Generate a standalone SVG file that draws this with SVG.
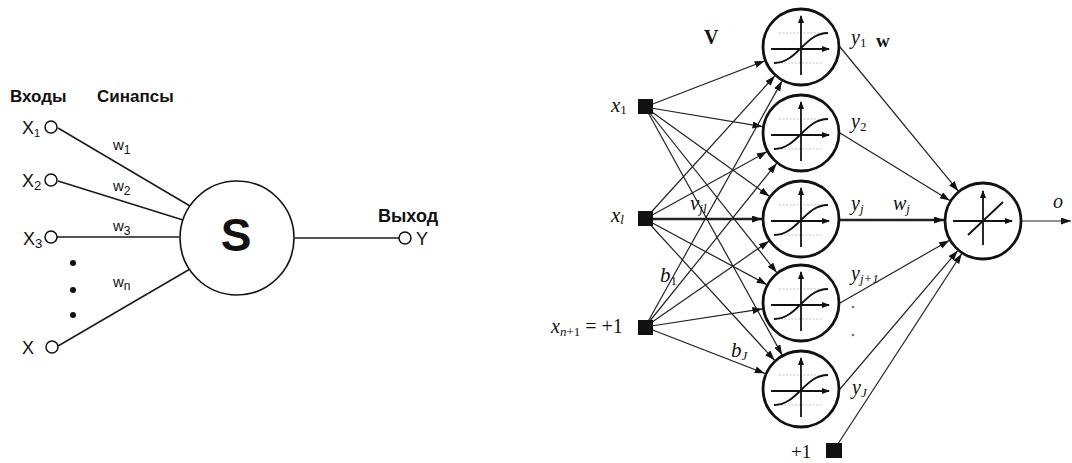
<svg xmlns="http://www.w3.org/2000/svg" xmlns:xlink="http://www.w3.org/1999/xlink" width="1072" height="463" viewBox="0 0 1072 463">
<style>
.sans{font-family:"Liberation Sans",Arial,sans-serif;fill:#111}
.serif{font-family:"Liberation Serif","Times New Roman",serif;fill:#111}
.it{font-style:italic}
.ln{stroke:#1a1a1a;stroke-width:1.5;fill:none}
.cn{stroke:#222;stroke-width:1.2;fill:none;marker-end:url(#ah)}
.thick{stroke-width:2.6}
.neuron{fill:#fff;stroke:#111;stroke-width:2.8}
.inp{fill:#fff;stroke:#111;stroke-width:1.5}
.sq{fill:#111}
.ax{stroke:#111;stroke-width:1.8;fill:none;marker-end:url(#sh)}
.faint{stroke:#aaa;stroke-width:0.7;stroke-dasharray:2 1.5;fill:none}
</style>
<defs>
<marker id="ah" markerUnits="userSpaceOnUse" markerWidth="10" markerHeight="8" refX="10" refY="3.5" orient="auto"><path d="M0,0 L10,3.5 L0,7 z" fill="#111"/></marker>
<marker id="sh" markerUnits="userSpaceOnUse" markerWidth="8" markerHeight="7" refX="7" refY="3" orient="auto"><path d="M0,0 L8,3 L0,6 z" fill="#111"/></marker>
<g id="sig">
<path class="faint" d="M-22,-14 H26 M-27,16 H22"/>
<path class="ax" d="M-30,2 H28"/>
<path class="ax" d="M0,28 V-31"/>
<path d="M-27,16 C-3,16 3,-14 27,-14" stroke="#111" stroke-width="1.8" fill="none"/>
</g>
</defs>
<rect width="1072" height="463" fill="#fff"/>

<!-- LEFT: single neuron -->
<g id="left-connectors">
<line class="ln" x1="58" y1="128" x2="190" y2="206"/>
<line class="ln" x1="58" y1="181" x2="183" y2="220"/>
<line class="ln" x1="57" y1="237" x2="179" y2="237"/>
<line class="ln" x1="58" y1="346" x2="190" y2="269"/>
<line class="ln" x1="295" y1="238" x2="399" y2="238"/>
</g>
<g id="headers">
<text class="sans" x="10" y="102" font-size="17" font-weight="bold">Входы</text>
<text class="sans" x="97" y="102" font-size="17" font-weight="bold">Синапсы</text>
</g>
<g id="x1"><circle class="inp" cx="51" cy="127" r="6"/><text class="sans" x="22" y="134" font-size="18">X<tspan font-size="11" dy="3">1</tspan></text></g>
<g id="x2"><circle class="inp" cx="51" cy="180" r="6"/><text class="sans" x="22" y="187" font-size="18">X<tspan font-size="13" dy="3">2</tspan></text></g>
<g id="x3"><circle class="inp" cx="51" cy="237" r="6"/><text class="sans" x="23" y="245" font-size="18">X<tspan font-size="13" dy="3">3</tspan></text></g>
<g id="xn"><circle class="inp" cx="52" cy="347" r="6"/><text class="sans" x="22" y="354" font-size="18">X</text></g>
<g id="dots"><circle cx="73" cy="263" r="3" fill="#111"/><circle cx="73" cy="290" r="3" fill="#111"/><circle cx="73" cy="315" r="3" fill="#111"/></g>
<g id="weights">
<text class="sans" x="113" y="150" font-size="15" fill="#222">w<tspan font-size="12" dy="4">1</tspan></text>
<text class="sans" x="113" y="191" font-size="15" fill="#222">w<tspan font-size="12" dy="4">2</tspan></text>
<text class="sans" x="113" y="231" font-size="15" fill="#222">w<tspan font-size="12" dy="4">3</tspan></text>
<text class="sans" x="113" y="287" font-size="15" fill="#222">w<tspan font-size="12" dy="3">n</tspan></text>
</g>
<g id="summator"><circle cx="237" cy="238" r="57" fill="#fff" stroke="#111" stroke-width="1.6"/><text class="sans" x="236" y="251" font-size="46" font-weight="bold" text-anchor="middle">S</text></g>
<g id="output-y"><circle class="inp" cx="405" cy="238" r="6"/><text class="sans" x="416" y="245" font-size="18">Y</text><text class="sans" x="378" y="222" font-size="18" font-weight="bold">Выход</text></g>

<!-- RIGHT: two-layer network -->
<g id="connectors">
<line class="cn" x1="645" y1="107" x2="764.6" y2="61"/>
<line class="cn" x1="645" y1="107" x2="762.5" y2="126.6"/>
<line class="cn" x1="645" y1="107" x2="769.3" y2="196.3"/>
<line class="cn" x1="645" y1="107" x2="776.7" y2="272.5"/>
<line class="cn" x1="645" y1="107" x2="782.1" y2="354.9"/>
<line class="cn" x1="645" y1="219" x2="774.8" y2="75.9"/>
<line class="cn" x1="645" y1="219" x2="766.8" y2="151.8"/>
<line class="cn thick" x1="645" y1="219" x2="762" y2="219"/>
<line class="cn" x1="645" y1="219" x2="766.7" y2="284.5"/>
<line class="cn" x1="645" y1="219" x2="774.6" y2="360.3"/>
<line class="cn" x1="645" y1="327" x2="782" y2="81.1"/>
<line class="cn" x1="645" y1="327" x2="776.6" y2="163.4"/>
<line class="cn" x1="645" y1="327" x2="768.9" y2="241.2"/>
<line class="cn" x1="645" y1="327" x2="762.4" y2="308.9"/>
<line class="cn" x1="645" y1="327" x2="764.8" y2="373.4"/>
<line class="cn" x1="840" y1="47" x2="958.2" y2="190.9"/>
<line class="cn" x1="840" y1="133" x2="949.8" y2="200.6"/>
<line class="cn thick" x1="840" y1="220" x2="944" y2="220"/>
<line class="cn" x1="840" y1="303" x2="949.2" y2="240.4"/>
<line class="cn" x1="840" y1="389" x2="957.7" y2="250.7"/>
<line class="cn" x1="834" y1="450" x2="961.7" y2="253.7"/>
<line class="cn" x1="1022" y1="221" x2="1071" y2="221"/>
</g>
<g id="in-x1"><rect class="sq" x="638" y="99" width="15" height="15"/><text class="serif it" x="611" y="112" font-size="21">x<tspan font-style="normal" font-size="13" dy="2">1</tspan></text></g>
<g id="in-xl"><rect class="sq" x="638" y="211" width="15" height="15"/><text class="serif it" x="611" y="222" font-size="21">x<tspan font-size="13" dy="2">l</tspan></text></g>
<g id="in-bias"><rect class="sq" x="638" y="320" width="15" height="15"/><text class="serif" x="551" y="333" font-size="20"><tspan font-style="italic">x</tspan><tspan font-style="italic" font-size="13" dy="3">n</tspan><tspan font-size="13">+1</tspan><tspan dy="-3"> = +1</tspan></text></g>
<g id="out-bias"><rect class="sq" x="826" y="443" width="16" height="15"/><text class="serif" x="791" y="458" font-size="19">+1</text></g>
<g id="labels-lr">
<text class="serif" x="704" y="44" font-size="20" font-weight="bold">V</text>
<text class="serif" x="876" y="47" font-size="19" font-weight="bold">w</text>
<text class="serif it" x="690" y="210" font-size="21">v<tspan font-size="13" dy="3">jl</tspan></text>
<text class="serif it" x="660" y="282" font-size="21">b<tspan font-style="normal" font-size="13" dy="3">1</tspan></text>
<text class="serif it" x="731" y="357" font-size="21">b<tspan font-size="13" dy="3">J</tspan></text>
</g>
<g id="h1"><circle class="neuron" cx="801" cy="47" r="38"/><use xlink:href="#sig" x="801" y="47"/><text class="serif it" x="851" y="44" font-size="20">y<tspan font-style="normal" font-size="13" dy="3">1</tspan></text></g>
<g id="h2"><circle class="neuron" cx="801" cy="133" r="38"/><use xlink:href="#sig" x="801" y="133"/><text class="serif it" x="851" y="128" font-size="20">y<tspan font-style="normal" font-size="13" dy="3">2</tspan></text></g>
<g id="h3"><circle class="neuron" cx="801" cy="219" r="38"/><use xlink:href="#sig" x="801" y="219"/><text class="serif it" x="851" y="210" font-size="20">y<tspan font-size="13" dy="3">j</tspan></text><text class="serif it" x="893" y="210" font-size="20">w<tspan font-size="13" dy="3">j</tspan></text></g>
<g id="h4"><circle class="neuron" cx="801" cy="303" r="38"/><use xlink:href="#sig" x="801" y="303"/><text class="serif it" x="851" y="280" font-size="20">y<tspan font-size="13" dy="3">j+1</tspan></text><circle cx="853" cy="307" r="1.3" fill="#777"/><circle cx="853" cy="335" r="1.3" fill="#777"/></g>
<g id="h5"><circle class="neuron" cx="801" cy="389" r="38"/><use xlink:href="#sig" x="801" y="389"/><text class="serif it" x="852" y="394" font-size="20">y<tspan font-size="13" dy="3">J</tspan></text></g>
<g id="out"><circle class="neuron" cx="983" cy="221" r="38"/>
<path class="ax" d="M953,221 H1012"/><path class="ax" d="M983,245 V191"/><path d="M968,235 L1003,202" stroke="#111" stroke-width="1.8"/>
<text class="serif it" x="1053" y="208" font-size="20">o</text></g>
</svg>
